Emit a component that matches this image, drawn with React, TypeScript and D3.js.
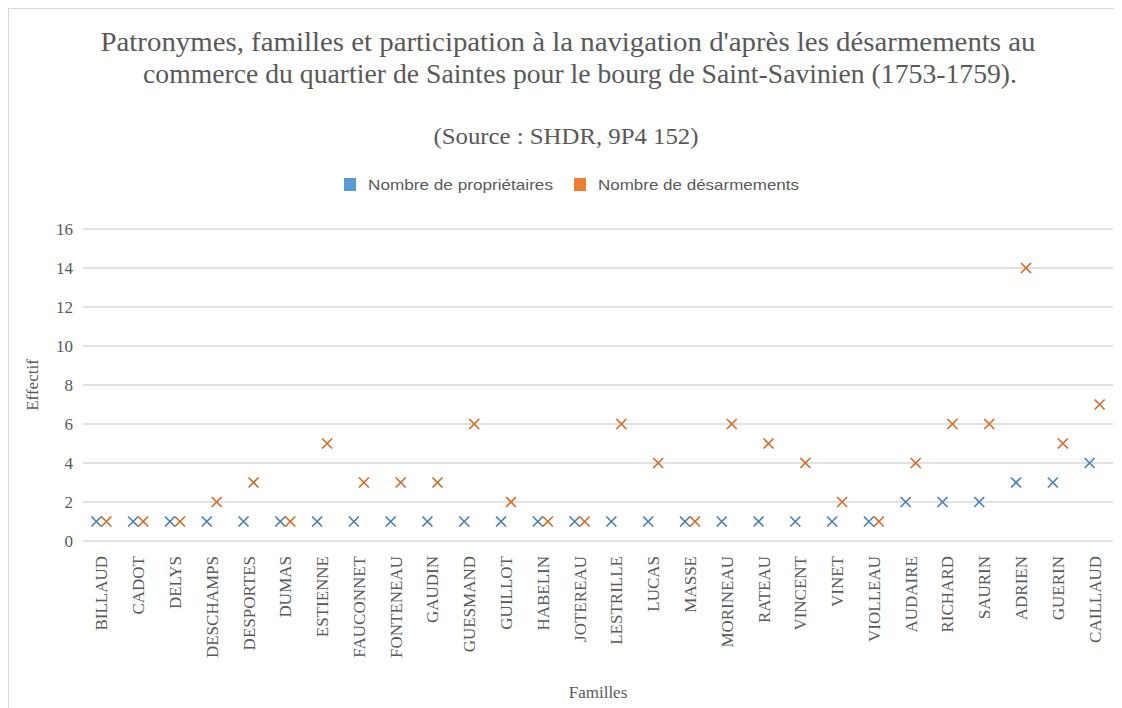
import React, { useRef, useEffect } from "react";
import * as d3 from "d3";

const familles: string[] = [
  "BILLAUD", "CADOT", "DELYS", "DESCHAMPS", "DESPORTES", "DUMAS", "ESTIENNE",
  "FAUCONNET", "FONTENEAU", "GAUDIN", "GUESMAND", "GUILLOT", "HABELIN",
  "JOTEREAU", "LESTRILLE", "LUCAS", "MASSE", "MORINEAU", "RATEAU", "VINCENT",
  "VINET", "VIOLLEAU", "AUDAIRE", "RICHARD", "SAURIN", "ADRIEN", "GUERIN",
  "CAILLAUD",
];
const proprietaires: number[] = [
  1, 1, 1, 1, 1, 1, 1, 1, 1, 1, 1, 1, 1, 1, 1, 1, 1, 1, 1, 1, 1, 1, 2, 2, 2, 3, 3, 4,
];
const desarmements: number[] = [
  1, 1, 1, 2, 3, 1, 5, 3, 3, 3, 6, 2, 1, 1, 6, 4, 1, 6, 5, 4, 2, 1, 4, 6, 6, 14, 5, 7,
];
const yTicks: number[] = [0, 2, 4, 6, 8, 10, 12, 14, 16];

const series = [
  { name: "Nombre de propriétaires", values: proprietaires, color: "#5B9BD5", mark: "#4a7fb8", dx: -5 },
  { name: "Nombre de désarmements", values: desarmements, color: "#ED7D31", mark: "#d46b28", dx: 5 },
];

const W = 1113;
const H = 700;

const App: React.FC = () => {
  const ref = useRef<SVGSVGElement>(null);

  useEffect(() => {
    const svg = d3.select(ref.current);
    svg.selectAll("*").remove();
    const serif = "Liberation Serif, Times New Roman, serif";
    const sans = "Liberation Sans, Arial, sans-serif";

    // frame (bottom edge runs off the page)
    svg.append("rect")
      .attr("x", 0.5).attr("y", 0.5)
      .attr("width", W - 1).attr("height", H + 10)
      .attr("fill", "#fff").attr("stroke", "#d9d9d9");

    // plot area (svg coords = page - 8)
    const left = 75, right = 1105, top = 221, bottom = 533;

    const x = d3.scaleBand<string>().domain(familles).range([left, right]);
    const y = d3.scaleLinear().domain([0, 16]).range([bottom, top]);

    // title
    const title = svg.append("text")
      .attr("text-anchor", "middle")
      .attr("font-family", serif)
      .attr("font-size", 27)
      .attr("fill", "#595959");
    title.append("tspan").attr("x", 560).attr("y", 43)
      .attr("textLength", 935).attr("lengthAdjust", "spacingAndGlyphs")
      .text("Patronymes, familles et participation à la navigation d'après les désarmements au");
    title.append("tspan").attr("x", 572).attr("y", 75)
      .attr("textLength", 874).attr("lengthAdjust", "spacingAndGlyphs")
      .text("commerce du quartier de Saintes pour le bourg de Saint-Savinien (1753-1759).");

    svg.append("text")
      .attr("x", 558).attr("y", 136)
      .attr("text-anchor", "middle")
      .attr("font-family", serif)
      .attr("font-size", 23)
      .attr("fill", "#595959")
      .attr("textLength", 265).attr("lengthAdjust", "spacingAndGlyphs")
      .text("(Source : SHDR, 9P4 152)");

    // legend
    const legend = svg.append("g").attr("font-family", sans).attr("font-size", 15).attr("fill", "#595959");
    const legendX = [336, 566];
    const legendW = [185, 201];
    series.forEach((s, i) => {
      legend.append("rect")
        .attr("x", legendX[i]).attr("y", 170)
        .attr("width", 12).attr("height", 13)
        .attr("fill", s.color);
      legend.append("text")
        .attr("x", legendX[i] + 24).attr("y", 182)
        .attr("textLength", legendW[i]).attr("lengthAdjust", "spacingAndGlyphs")
        .text(s.name);
    });

    // gridlines
    svg.append("g")
      .selectAll("line")
      .data(yTicks)
      .join("line")
      .attr("x1", left).attr("x2", right)
      .attr("y1", (d) => y(d)).attr("y2", (d) => y(d))
      .attr("stroke", "#d9d9d9").attr("stroke-width", 1.3);

    // y axis labels
    svg.append("g")
      .selectAll("text")
      .data(yTicks)
      .join("text")
      .attr("x", left - 10)
      .attr("y", (d) => y(d) + 6)
      .attr("text-anchor", "end")
      .attr("font-family", serif)
      .attr("font-size", 17)
      .attr("fill", "#595959")
      .text((d) => d);

    svg.append("text")
      .attr("transform", `translate(30, ${(top + bottom) / 2}) rotate(-90)`)
      .attr("text-anchor", "middle")
      .attr("font-family", serif)
      .attr("font-size", 17)
      .attr("fill", "#595959")
      .text("Effectif");

    // x axis labels
    svg.append("g")
      .selectAll("text")
      .data(familles)
      .join("text")
      .attr("transform", (d) => `translate(${(x(d) || 0) + x.bandwidth() / 2 + 6}, ${bottom + 15}) rotate(-90)`)
      .attr("text-anchor", "end")
      .attr("font-family", serif)
      .attr("font-size", 17)
      .attr("fill", "#595959")
      .text((d) => d);

    svg.append("text")
      .attr("x", 590).attr("y", 690)
      .attr("text-anchor", "middle")
      .attr("font-family", serif)
      .attr("font-size", 17)
      .attr("fill", "#595959")
      .text("Familles");

    // markers
    const r = 5;
    series.forEach((s) => {
      const g = svg.append("g").attr("stroke", s.mark).attr("stroke-width", 1.7);
      s.values.forEach((v, i) => {
        const cx = (x(familles[i]) || 0) + x.bandwidth() / 2 + s.dx;
        const cy = y(v);
        g.append("path")
          .attr("d", `M${cx - r},${cy - r}L${cx + r},${cy + r}M${cx - r},${cy + r}L${cx + r},${cy - r}`);
      });
    });
  }, []);

  return <svg ref={ref} width={W} height={H} style={{ display: "block" }}></svg>;
};

export default App;
